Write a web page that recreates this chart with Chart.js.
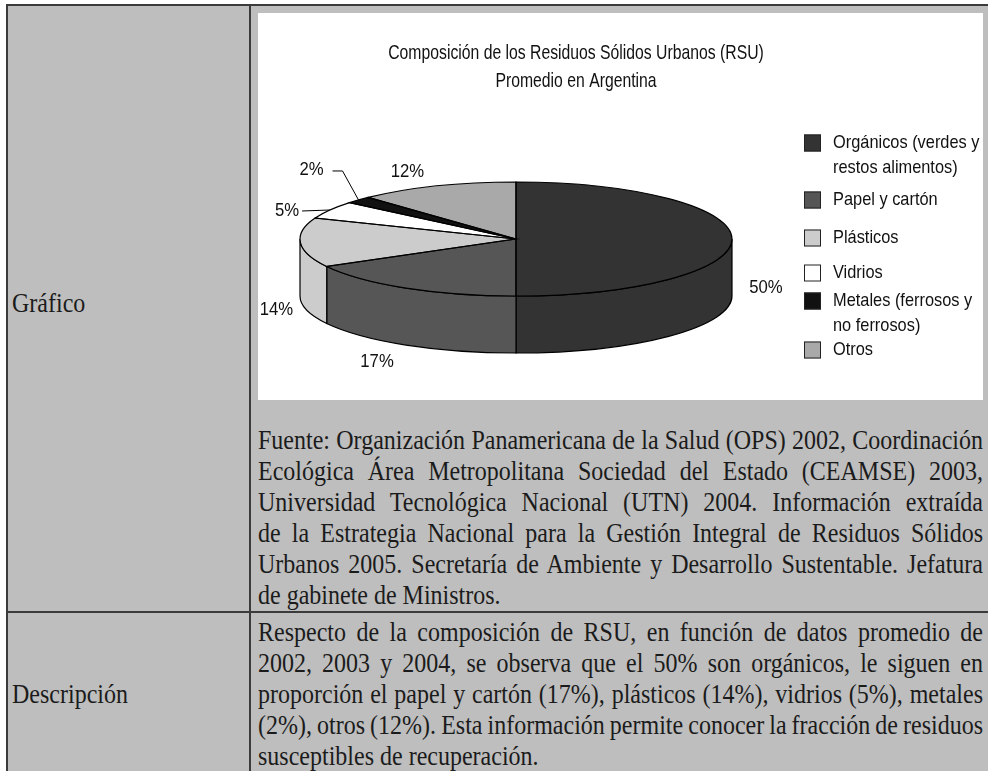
<!DOCTYPE html>
<html lang="es">
<head>
<meta charset="utf-8">
<title>Composición de los RSU</title>
<script src="https://cdn.jsdelivr.net/npm/chart.js@4.4.1/dist/chart.umd.min.js"></script>
<style>
  html, body { margin: 0; padding: 0; background: #fff; }
  body { width: 988px; height: 771px; position: relative; overflow: hidden; }
  .abs { position: absolute; }
  #sheet { left: 6px; top: 4px; width: 982px; height: 767px; background: #bebebe; }
  .rule { background: #3b3b3b; }
  #chartBox { left: 258px; top: 13px; width: 725px; height: 387px; background: #fff; }
  .txt { font-family: "Liberation Serif", "Times New Roman", serif; font-size: 24px; line-height: 31px; color: #1b1b1b; }
  .tall { transform: scaleY(1.13); transform-origin: 0 24px; }
  .block { left: 258px; width: 725px; }
  .ln { white-space: nowrap; text-align: justify; text-align-last: justify; transform: scaleY(1.13); transform-origin: 0 24px; }
  .ln.last { text-align-last: left; }
</style>
</head>
<body>
<div id="sheet" class="abs"></div>
<div class="abs rule" style="left:6px;top:4px;width:982px;height:2px"></div>
<div class="abs rule" style="left:6px;top:4px;width:2px;height:767px"></div>
<div class="abs rule" style="left:249px;top:4px;width:2px;height:767px"></div>
<div class="abs rule" style="left:6px;top:611px;width:982px;height:2px"></div>

<div id="chartBox" class="abs"><canvas id="rsuChart" width="725" height="387"></canvas></div>

<div class="abs txt tall" style="left:12px;top:289px">Gráfico</div>
<div class="abs txt tall" style="left:12px;top:680px">Descripción</div>

<div class="abs txt block" style="top:426px">
  <div class="ln">Fuente: Organización Panamericana de la Salud (OPS) 2002, Coordinación</div>
  <div class="ln">Ecológica Área Metropolitana Sociedad del Estado (CEAMSE) 2003,</div>
  <div class="ln">Universidad Tecnológica Nacional (UTN) 2004. Información extraída</div>
  <div class="ln">de la Estrategia Nacional para la Gestión Integral de Residuos Sólidos</div>
  <div class="ln">Urbanos 2005. Secretaría de Ambiente y Desarrollo Sustentable. Jefatura</div>
  <div class="ln last">de gabinete de Ministros.</div>
</div>

<div class="abs txt block" style="top:618px">
  <div class="ln">Respecto de la composición de RSU, en función de datos promedio de</div>
  <div class="ln">2002, 2003 y 2004, se observa que el 50% son orgánicos, le siguen en</div>
  <div class="ln">proporción el papel y cartón (17%), plásticos (14%), vidrios (5%), metales</div>
  <div class="ln" style="word-spacing:-2px">(2%), otros (12%). Esta información permite conocer la fracción de residuos</div>
  <div class="ln last">susceptibles de recuperación.</div>
</div>

<script>
// datos
const categories = [
    ["Orgánicos (verdes y", "restos alimentos)"],
    ["Papel y cartón"],
    ["Plásticos"],
    ["Vidrios"],
    ["Metales (ferrosos y", "no ferrosos)"],
    ["Otros"]
];
const shares = [50, 17, 14, 5, 2, 12];
const titleLines = ["Composición de los Residuos Sólidos Urbanos (RSU)", "Promedio en Argentina"];

const sliceColors = ["#333333", "#565656", "#cccccc", "#ffffff", "#111111", "#a9a9a9"];
const sansFont = "'Liberation Sans', Arial, sans-serif";

// condensed text, like the original artwork
function narrowText(ctx, text, x, y, squeeze){
    ctx.save();
    ctx.translate(x, y);
    ctx.scale(squeeze, 1);
    ctx.fillText(text, 0, 0);
    ctx.restore();
}

// pie "3D": the library lays out the arcs, we squash them into an ellipse and add the wall
const pie3d = {
    id: "pie3d",
    beforeDatasetsDraw(chart, args, o){
        const ctx = chart.ctx;
        const arcs = chart.getDatasetMeta(0).data;
        const colors = chart.data.datasets[0].backgroundColor;

        ctx.save();
        ctx.lineWidth = o.lineWidth;
        ctx.strokeStyle = "#000";
        arcs.forEach((arc, i) => {
            const a = Math.max(arc.startAngle, 0);
            const b = Math.min(arc.endAngle, Math.PI);
            if (b <= a) return;
            ctx.beginPath();
            ctx.ellipse(o.cx, o.cy, o.rx, o.ry, 0, a, b);
            ctx.lineTo(o.cx + o.rx * Math.cos(b), o.cy + o.depth + o.ry * Math.sin(b));
            ctx.ellipse(o.cx, o.cy + o.depth, o.rx, o.ry, 0, b, a, true);
            ctx.closePath();
            ctx.fillStyle = colors[i];
            ctx.fill();
            ctx.stroke();
        });
        ctx.restore();

        const a0 = arcs[0];
        ctx.save();
        ctx.translate(o.cx, o.cy);
        ctx.scale(o.rx / a0.outerRadius, o.ry / a0.outerRadius);
        ctx.translate(-a0.x, -a0.y);
    },
    afterDatasetsDraw(chart, args, o){
        const ctx = chart.ctx;
        ctx.restore();

        const arcs = chart.getDatasetMeta(0).data;
        const colors = chart.data.datasets[0].backgroundColor;
        const values = chart.data.datasets[0].data;

        // outlines of the top face
        ctx.save();
        ctx.lineWidth = o.lineWidth;
        ctx.strokeStyle = "#000";
        arcs.forEach(arc => {
            ctx.beginPath();
            ctx.moveTo(o.cx, o.cy);
            ctx.ellipse(o.cx, o.cy, o.rx, o.ry, 0, arc.startAngle, arc.endAngle);
            ctx.closePath();
            ctx.stroke();
        });

        ctx.fillStyle = "#111";
        ctx.textAlign = "center";
        ctx.textBaseline = "middle";

        // title
        ctx.font = o.title.font;
        o.title.lines.forEach((t, k) => narrowText(ctx, t, o.title.x, o.title.y + k * o.title.gap, o.title.squeeze));

        // percent labels
        ctx.font = o.labelFont;
        ctx.lineWidth = 1;
        arcs.forEach((arc, i) => {
            const mid = (arc.startAngle + arc.endAngle) / 2;
            const rimX = o.cx + o.rx * Math.cos(mid);
            const rimY = o.cy + o.ry * Math.sin(mid);
            const s = o.labelShift[i];
            narrowText(ctx, values[i] + "%", rimX + s[0], rimY + s[1], o.labelSqueeze);
            const lead = o.leaders[i];
            if (lead){
                ctx.beginPath();
                ctx.moveTo(rimX, rimY);
                lead.forEach(p => ctx.lineTo(rimX + p[0], rimY + p[1]));
                ctx.stroke();
            }
        });

        // legend
        const lg = o.legend;
        ctx.font = lg.font;
        ctx.textAlign = "left";
        chart.data.labels.forEach((lines, i) => {
            const y = lg.rows[i];
            ctx.fillStyle = colors[i];
            ctx.fillRect(lg.x, y - lg.box / 2, lg.box, lg.box);
            ctx.strokeStyle = "#222";
            ctx.strokeRect(lg.x + 0.5, y - lg.box / 2 + 0.5, lg.box - 1, lg.box - 1);
            ctx.fillStyle = "#111";
            lines.forEach((t, k) => narrowText(ctx, t, lg.textX, y + k * lg.lineGap, lg.squeeze));
        });
        ctx.restore();
    }
};

new Chart(document.getElementById("rsuChart"), {
    type: "pie",
    data: {
        labels: categories,
        datasets: [{
            data: shares,
            backgroundColor: sliceColors,
            borderWidth: 0,
            clip: false
        }]
    },
    options: {
        responsive: false,
        animation: false,
        events: [],
        plugins: {
            legend: { display: false },
            tooltip: { enabled: false },
            title: { display: false },
            pie3d: {
                cx: 258, cy: 226, rx: 216, ry: 57, depth: 57,
                lineWidth: 1.2,
                title: { lines: titleLines, x: 318, y: 40, gap: 28, font: "21px " + sansFont, squeeze: 0.75 },
                labelFont: "19px " + sansFont,
                labelSqueeze: 0.88,
                labelShift: [[34, 49], [-29, 74], [-24, 67], [-43, 1], [-47, -30], [-29, -14]],
                leaders: { 3: [[-28, 1]], 4: [[-16, -29], [-26, -29]] },
                legend: {
                    x: 546, textX: 575, box: 17, lineGap: 25,
                    rows: [130, 187, 225, 260, 288, 337],
                    font: "18.5px " + sansFont, squeeze: 0.885
                }
            }
        }
    },
    plugins: [pie3d]
});
</script>
</body>
</html>
